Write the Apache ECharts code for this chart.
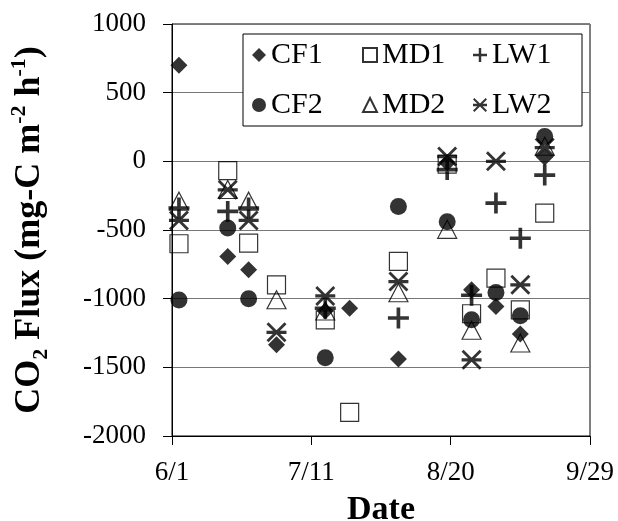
<!DOCTYPE html>
<html>
<head>
<meta charset="utf-8">
<script src="https://cdn.jsdelivr.net/npm/echarts@6/dist/echarts.min.js"></script>
<style>html,body{margin:0;padding:0;background:#fff}#c{width:618px;height:521px}</style>
</head>
<body>
<div id="c"></div>
<script>
// ---- data ----
var dates = ['6/3','6/17','6/23','7/1','7/15','7/22','8/5','8/19','8/26','9/2','9/9','9/16'];
var CF1 = [700, -693, -790, -1336, -1090, -1069, -1440, -10, -935, -1057, -1258, 30];
var CF2 = [-1010, -485, -1000, null, -1430, null, -329, -440, -1154, -955, -1125, 180];
var MD1 = [-600, -67, -595, -900, -1154, -1828, -729, -20, -1110, -850, -1081, -377];
var MD2 = [-290, -205, -290, -1008, -1090, null, -957, -495, -1230, null, -1323, 110];
var LW1 = [-340, -365, -340, null, -1070, null, -1141, -60, -975, -304, -560, -100];
var LW2 = [-430, -207, -430, -1245, -980, null, -875, 35, -1445, 0, -899, 100];
var xTickDays = [0, 40, 80, 120];
var xTickLabels = ['6/1', '7/11', '8/20', '9/29'];
var yTicks = [-2000, -1500, -1000, -500, 0, 500, 1000];

// ---- helpers ----
var monthOffset = {6: 0, 7: 30, 8: 61, 9: 92};
function dayOf(s) { var p = s.split('/'); return monthOffset[+p[0]] + (+p[1]) - 1; }
function pts(vals) {
  var out = [];
  for (var i = 0; i < dates.length; i++) if (vals[i] !== null) out.push([dayOf(dates[i]), vals[i]]);
  return out;
}
var FONT = 'Liberation Serif';
var plusPath = 'path://M6.6,0H9.4V6.6H16V9.4H9.4V16H6.6V9.4H0V6.6H6.6Z';
var starPath = 'path://M0,1.6L1.6,0L16,14.4L14.4,16Z M16,1.6L1.6,16L0,14.4L14.4,0Z M0,6.7L16,6.7L16,9.3L0,9.3Z';
var hollow = {color: 'rgba(255,255,255,0)', borderColor: '#000', borderWidth: 1.2};
var solid = {color: '#000'};

var series = [
  {name: 'CF1', type: 'scatter', symbol: 'diamond', symbolSize: 17, itemStyle: solid, data: pts(CF1)},
  {name: 'CF2', type: 'scatter', symbol: 'circle', symbolSize: 17, itemStyle: solid, data: pts(CF2)},
  {name: 'MD1', type: 'scatter', symbol: 'rect', symbolSize: 18, itemStyle: hollow, data: pts(MD1)},
  {name: 'MD2', type: 'scatter', symbol: 'triangle', symbolSize: [19, 18], itemStyle: hollow, data: pts(MD2)},
  {name: 'LW1', type: 'scatter', symbol: plusPath, symbolSize: 21, itemStyle: solid, data: pts(LW1)},
  {name: 'LW2', type: 'scatter', symbol: starPath, symbolSize: 20, itemStyle: solid, data: pts(LW2)}
];

var chart = echarts.init(document.getElementById('c'), null, {renderer: 'canvas'});
chart.setOption({
  animation: false,
  backgroundColor: '#fff',
  grid: {left: 172, right: 28, top: 24, bottom: 85, show: true, borderColor: '#000', borderWidth: 1,
    backgroundColor: 'transparent', containLabel: false, outerBoundsMode: 'none'},
  legend: {
    data: ['CF1', 'MD1', 'LW1', 'CF2', 'MD2', 'LW2'],
    left: 243, top: 34, width: 320,
    orient: 'horizontal',
    padding: [3, 13, 3, 9],
    itemGap: 14,
    itemWidth: 14, itemHeight: 14,
    backgroundColor: '#fff', borderColor: '#000', borderWidth: 1,
    textStyle: {fontFamily: FONT, fontSize: 30, color: '#000', width: 77, lineHeight: 36}
  },
  xAxis: {
    type: 'value', min: 0, max: 120, interval: 40,
    name: 'Date', nameLocation: 'middle', nameGap: 57,
    nameTextStyle: {fontFamily: FONT, fontSize: 34, fontWeight: 'bold', color: '#000'},
    axisLine: {onZero: false, lineStyle: {color: '#000', width: 1}},
    axisTick: {show: true, inside: false, length: 9, lineStyle: {color: '#000'}},
    axisLabel: {fontFamily: FONT, fontSize: 27, color: '#000', margin: 23,
      formatter: function (v) { var i = xTickDays.indexOf(v); return i >= 0 ? xTickLabels[i] : ''; }},
    splitLine: {show: false}
  },
  yAxis: {
    type: 'value', min: yTicks[0], max: yTicks[yTicks.length - 1], interval: 500,
    name: '{b|CO}{s|2}{b| Flux (mg-C m}{p|-2}{b| h}{p|-1}{b|)}',
    nameLocation: 'middle', nameGap: 120,
    nameTextStyle: {
      color: '#000',
      rich: {
        b: {fontFamily: FONT, fontSize: 36, fontWeight: 'bold', color: '#000', lineHeight: 44},
        s: {fontFamily: FONT, fontSize: 22, fontWeight: 'bold', color: '#000', verticalAlign: 'bottom', lineHeight: 26},
        p: {fontFamily: FONT, fontSize: 22, fontWeight: 'bold', color: '#000', verticalAlign: 'top', lineHeight: 26}
      }
    },
    axisLine: {show: true, lineStyle: {color: '#000', width: 1}},
    axisTick: {show: true, inside: false, length: 9, lineStyle: {color: '#000'}},
    axisLabel: {fontFamily: FONT, fontSize: 27, color: '#000', margin: 26,
      formatter: function (v) { return String(v); }},
    splitLine: {show: true, lineStyle: {color: '#777', width: 1}}
  },
  series: series
});
</script>
</body>
</html>
